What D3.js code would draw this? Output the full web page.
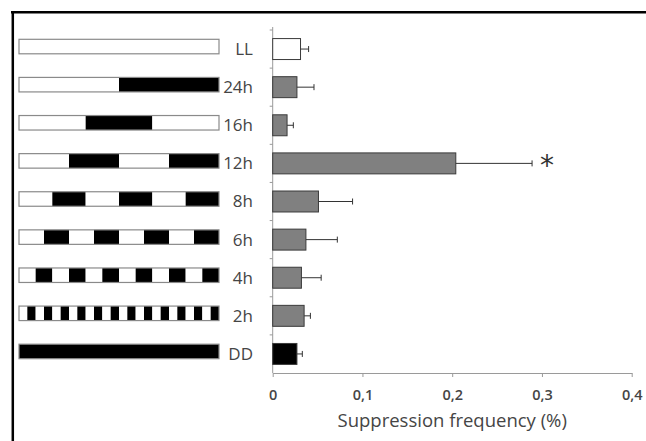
<!DOCTYPE html>
<html><head><meta charset="utf-8">
<script src="https://cdn.jsdelivr.net/npm/d3@7"></script>
<style>body{margin:0;background:#fff}svg{display:block}</style>
</head><body>
<script>
// Data
const categories = ["LL","24h","16h","12h","8h","6h","4h","2h","DD"];
const periods = [null, 24, 16, 12, 8, 6, 4, 2, 0]; // light/dark cycle period in hours (null = constant light, 0 = constant dark)
const values = [0.031, 0.027, 0.016, 0.204, 0.051, 0.037, 0.032, 0.035, 0.027];
const errors = [0.009, 0.019, 0.007, 0.085, 0.038, 0.035, 0.022, 0.007, 0.006];
const fills = ["#ffffff","#808080","#808080","#808080","#808080","#808080","#808080","#808080","#000000"];
const xTicks = [0, 0.1, 0.2, 0.3, 0.4];
const xTickLabels = ["0","0,1","0,2","0,3","0,4"];
const significant = ["12h"];
const axisTitle = "Suppression frequency (%)";
const dayHours = 24;

const W = 646, H = 441;
const svg = d3.select("body").append("svg").attr("width", W).attr("height", H);

// Frame
svg.append("line").attr("x1", 11).attr("x2", W).attr("y1", 12.2).attr("y2", 12.2).attr("stroke", "#000").attr("stroke-width", 2.5);
svg.append("line").attr("x1", 12.8).attr("x2", 12.8).attr("y1", 11).attr("y2", H).attr("stroke", "#000").attr("stroke-width", 2.5);

const x = d3.scaleLinear().domain([0, 0.4]).range([272.7, 631.7]);
const y = d3.scaleBand().domain(categories).range([30, 373]).paddingInner(0.45).paddingOuter(0.225);
const yb = d3.scaleBand().domain(categories).range([30, 373]); // full bands for ticks
const textCol = "#454545";
const axisCol = "#9a9a9a";

// X axis
const xAxis = d3.axisBottom(x).tickValues(xTicks).tickFormat((d, i) => xTickLabels[i]).tickSize(4).tickSizeOuter(0);
const gx = svg.append("g").attr("transform", "translate(0,373)").call(xAxis);
gx.select(".domain").attr("stroke", axisCol);
gx.selectAll(".tick line").attr("stroke", axisCol);
gx.selectAll(".tick text").attr("fill", textCol).attr("font-family", "Open Sans, sans-serif").attr("font-size", 14.5)
  .attr("font-weight", 600).attr("y", 27).attr("dy", 0);

// Y axis (line + ticks at band edges)
const gy = svg.append("g");
gy.append("line").attr("x1", x(0)).attr("x2", x(0)).attr("y1", 27).attr("y2", 373).attr("stroke", axisCol);
gy.selectAll("line.t").data(categories).join("line").attr("class", "t")
  .attr("x1", x(0) - 3).attr("x2", x(0)).attr("y1", d => yb(d)).attr("y2", d => yb(d)).attr("stroke", axisCol);

// Bars
svg.selectAll("rect.bar").data(categories).join("rect").attr("class", "bar")
  .attr("x", x(0)).attr("y", d => y(d)).attr("width", (d, i) => x(values[i]) - x(0)).attr("height", y.bandwidth())
  .attr("fill", (d, i) => fills[i]).attr("stroke", "#3a3a3a").attr("stroke-width", 1);

// Error bars
const eg = svg.selectAll("g.err").data(categories).join("g").attr("class", "err");
eg.append("line").attr("x1", (d, i) => x(values[i])).attr("x2", (d, i) => x(values[i] + errors[i]))
  .attr("y1", d => y(d) + y.bandwidth() / 2).attr("y2", d => y(d) + y.bandwidth() / 2).attr("stroke", "#333").attr("stroke-width", 1);
eg.append("line").attr("x1", (d, i) => x(values[i] + errors[i])).attr("x2", (d, i) => x(values[i] + errors[i]))
  .attr("y1", d => y(d) + y.bandwidth() / 2 - 3).attr("y2", d => y(d) + y.bandwidth() / 2 + 3).attr("stroke", "#333").attr("stroke-width", 1);

// Significance asterisk
significant.forEach(c => {
  const i = categories.indexOf(c);
  svg.append("text").attr("x", x(values[i] + errors[i]) + 15).attr("y", y(c) + y.bandwidth() / 2 + 12)
    .attr("text-anchor", "middle").attr("font-family", "DejaVu Sans, sans-serif").attr("font-size", 28).attr("fill", "#333").text("*");
});

// Category labels
svg.selectAll("text.cat").data(categories).join("text").attr("class", "cat")
  .attr("x", 253).attr("y", d => yb(d) + yb.bandwidth() / 2).attr("dy", "0.35em").attr("text-anchor", "end")
  .attr("font-family", "Open Sans, sans-serif").attr("font-size", 17).attr("font-weight", 500).attr("fill", textCol).text(d => d);

// Light/dark pattern bars
const px = d3.scaleLinear().domain([0, dayHours]).range([19, 219]);
const patH = 14.5;
categories.forEach((c, i) => {
  const p = periods[i];
  const cy = yb(c) + yb.bandwidth() / 2 - 2.5;
  const g = svg.append("g");
  let segs = [];
  if (p === null) segs = [{s: 0, e: dayHours, dark: false}];
  else if (p === 0) segs = [{s: 0, e: dayHours, dark: true}];
  else {
    const half = p / 2;
    for (let k = 0; k * half < dayHours; k++) segs.push({s: k * half, e: Math.min((k + 1) * half, dayHours), dark: k % 2 === 1});
  }
  g.selectAll("rect").data(segs).join("rect")
    .attr("x", d => px(d.s)).attr("width", d => px(d.e) - px(d.s)).attr("y", cy - patH / 2).attr("height", patH)
    .attr("fill", d => d.dark ? "#000" : "#fff");
  g.append("rect").attr("x", px(0)).attr("y", cy - patH / 2).attr("width", px(dayHours) - px(0)).attr("height", patH)
    .attr("fill", "none").attr("stroke", "#8a8a8a").attr("stroke-width", 1.2);
});

// Axis title
svg.append("text").attr("x", (x(0) + x(0.4)) / 2).attr("y", 427).attr("text-anchor", "middle")
  .attr("font-family", "Open Sans, sans-serif").attr("font-size", 18.5).attr("fill", textCol).text(axisTitle);
</script>
</body></html>
